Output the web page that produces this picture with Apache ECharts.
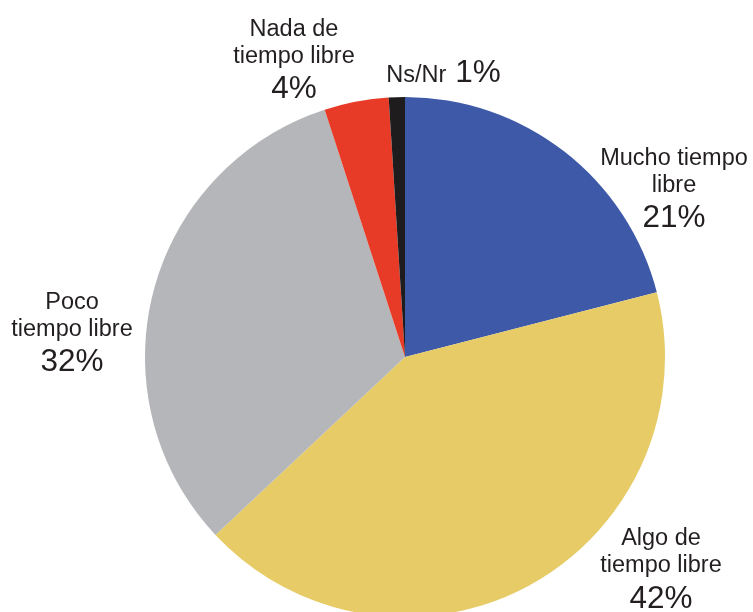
<!DOCTYPE html>
<html>
<head>
<meta charset="utf-8">
<script src="https://cdn.jsdelivr.net/npm/echarts@6/dist/echarts.min.js"></script>
<style>
  html, body { margin: 0; padding: 0; background: #fff; }
  #chart { width: 753px; height: 612px; }
</style>
</head>
<body>
<div id="chart"></div>
<script>
// categories, clockwise from 12 o'clock
const categories = ["Mucho tiempo libre", "Algo de tiempo libre", "Poco tiempo libre", "Nada de tiempo libre", "Ns/Nr"];
// label text split into lines
const labelLines = [["Mucho tiempo", "libre"], ["Algo de", "tiempo libre"], ["Poco", "tiempo libre"], ["Nada de", "tiempo libre"], ["Ns/Nr"]];
// percentages
const values = [21, 42, 32, 4, 1];
const colors = ["#3d59a8", "#e6cb66", "#b5b6b9", "#e83b27", "#1f1c1d"];

// label centres (layout only)
const labelPos = [[674, 191.5], [661, 572], [72, 335.5], [294, 62.5], [443.5, 73]];

const FONT = "'Liberation Sans', Arial, sans-serif";
const chart = echarts.init(document.getElementById("chart"));

chart.setOption({
  animation: false,
  textStyle: { fontFamily: FONT },
  series: [{
    type: "pie",
    center: [405, 357],
    radius: 260,
    startAngle: 90,
    clockwise: true,
    avoidLabelOverlap: false,
    itemStyle: { borderWidth: 0 },
    label: {
      show: true,
      position: "outside",
      color: "#231f20",
      fontFamily: FONT,
      formatter: (p) => {
        const lines = labelLines[p.dataIndex];
        if (lines.length === 1) return `{s|${lines[0]}}{p|${p.value}%}`;
        return lines.map((l) => `{n|${l}}`).join("\n") + `\n{p|${p.value}%}`;
      },
      rich: {
        n: { fontFamily: FONT, fontSize: 23.5, lineHeight: 27, color: "#231f20", align: "center" },
        s: { fontFamily: FONT, fontSize: 23.5, lineHeight: 27, color: "#231f20", padding: [6, 9, 0, 0] },
        p: { fontFamily: FONT, fontSize: 31.5, lineHeight: 39, color: "#231f20", align: "center" },
      },
    },
    labelLine: { show: false },
    labelLayout: (params) => ({
      x: labelPos[params.dataIndex][0],
      y: labelPos[params.dataIndex][1],
      align: "center",
      verticalAlign: "middle",
    }),
    emphasis: { disabled: true },
    data: categories.map((name, i) => ({
      name,
      value: values[i],
      itemStyle: { color: colors[i] },
    })),
  }],
});
</script>
</body>
</html>
